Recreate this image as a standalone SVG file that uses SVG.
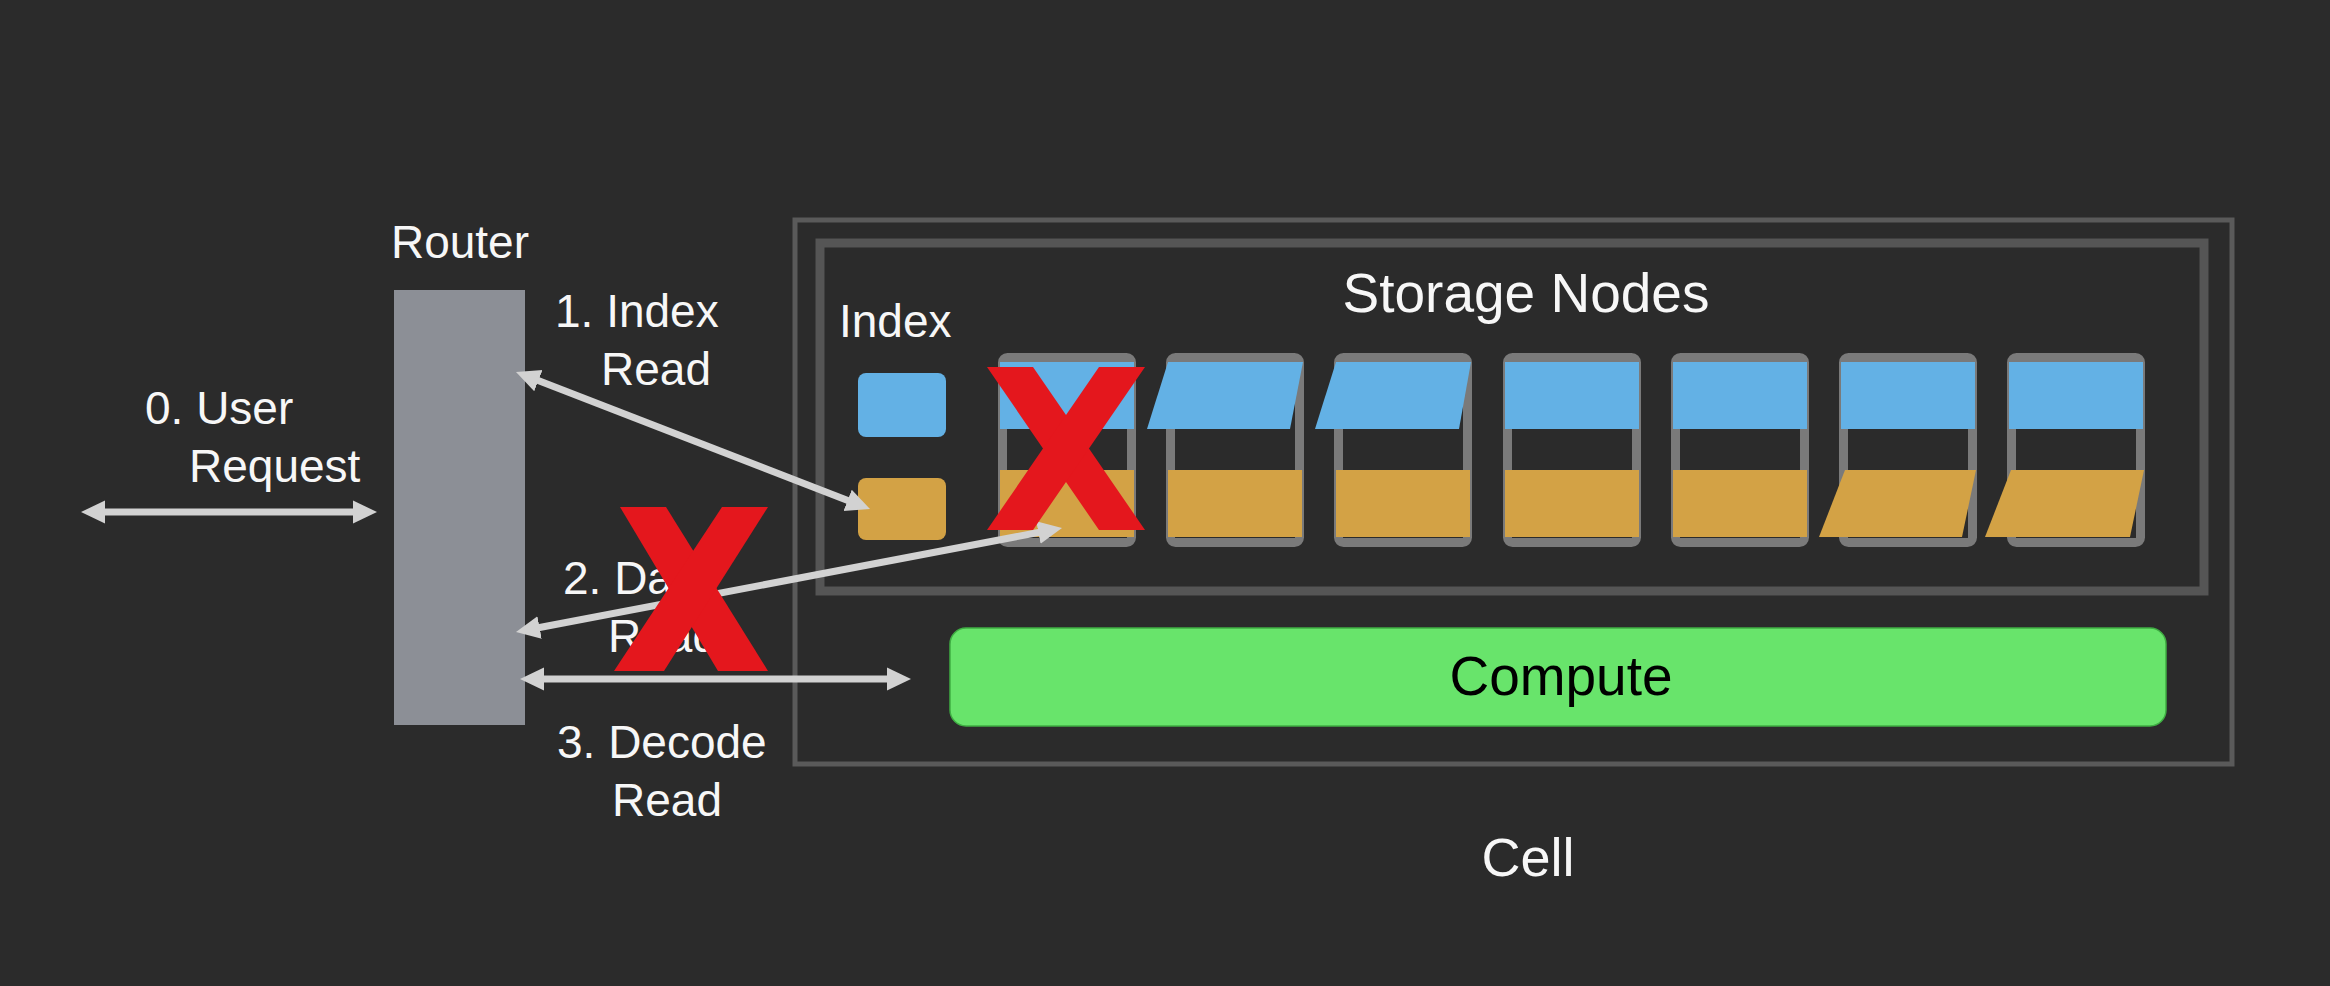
<svg xmlns="http://www.w3.org/2000/svg" width="2330" height="986" viewBox="0 0 2330 986">
<defs>
<style>
.lbl{font-family:"Liberation Sans",Arial,sans-serif;fill:#f7f7f7;font-size:46px}
.big{font-family:"Liberation Sans",Arial,sans-serif;font-size:55px}
.frame{fill:none;stroke:#7a7a7a;stroke-width:9}
.blue{fill:#63b1e5}
.orange{fill:#d3a245}
.conn{stroke:#d2d2d2;stroke-width:7;fill:none}
.xmark{fill:#e4171d}
</style>
<marker id="ah" viewBox="0 0 24 24" refX="12" refY="12" markerWidth="24" markerHeight="24" markerUnits="userSpaceOnUse" orient="auto-start-reverse">
<path d="M0,0.5 L24,12 L0,23.5 Z" fill="#d2d2d2"/>
</marker>
</defs>
<rect width="2330" height="986" fill="#2b2b2b"/>

<g id="cell">
<rect x="795" y="220" width="1437" height="544" fill="none" stroke="#5a5a5a" stroke-width="5"/>
<text class="lbl" x="1528" y="876" font-size="54" text-anchor="middle" style="font-size:54px">Cell</text>
</g>

<g id="storage-nodes">
<rect x="820" y="243" width="1384" height="348" fill="none" stroke="#555555" stroke-width="9"/>
<text class="lbl" x="1526" y="312" text-anchor="middle" style="font-size:55px">Storage Nodes</text>
</g>

<g id="router">
<text class="lbl" x="460" y="258" text-anchor="middle">Router</text>
<rect x="394" y="290" width="131" height="435" fill="#8c8f96"/>
</g>

<g id="index">
<text class="lbl" x="839" y="337">Index</text>
<rect x="858" y="373" width="88" height="64" rx="8" class="blue"/>
<rect x="858" y="478" width="88" height="62" rx="8" class="orange"/>
</g>

<g id="node-1">
<rect x="1002.5" y="357.5" width="129" height="185" rx="5" class="frame"/>
<rect x="1000" y="362" width="134" height="67" class="blue"/>
<rect x="1000" y="470" width="134" height="67" class="orange"/>
</g>
<g id="node-2">
<rect x="1170.5" y="357.5" width="129" height="185" rx="5" class="frame"/>
<polygon points="1168,362 1303,362 1290,429 1147,429" class="blue"/>
<rect x="1168" y="470" width="134" height="67" class="orange"/>
</g>
<g id="node-3">
<rect x="1338.5" y="357.5" width="129" height="185" rx="5" class="frame"/>
<polygon points="1336,362 1471,362 1459,429 1315,429" class="blue"/>
<rect x="1336" y="470" width="134" height="67" class="orange"/>
</g>
<g id="node-4">
<rect x="1507.5" y="357.5" width="129" height="185" rx="5" class="frame"/>
<rect x="1505" y="362" width="134" height="67" class="blue"/>
<rect x="1505" y="470" width="134" height="67" class="orange"/>
</g>
<g id="node-5">
<rect x="1675.5" y="357.5" width="129" height="185" rx="5" class="frame"/>
<rect x="1673" y="362" width="134" height="67" class="blue"/>
<rect x="1673" y="470" width="134" height="67" class="orange"/>
</g>
<g id="node-6">
<rect x="1843.5" y="357.5" width="129" height="185" rx="5" class="frame"/>
<rect x="1841" y="362" width="134" height="67" class="blue"/>
<polygon points="1845,470 1976,470 1962,537 1819,537" class="orange"/>
</g>
<g id="node-7">
<rect x="2011.5" y="357.5" width="129" height="185" rx="5" class="frame"/>
<rect x="2009" y="362" width="134" height="67" class="blue"/>
<polygon points="2011,470 2144,470 2130,537 1985,537" class="orange"/>
</g>

<g id="compute">
<rect x="950" y="628" width="1216" height="98" rx="16" fill="#68e46b" stroke="#3fae43" stroke-width="1.5"/>
<text class="big" x="1561" y="695" text-anchor="middle" fill="#000000">Compute</text>
</g>

<g id="labels">
<text class="lbl" x="145" y="424">0. User</text>
<text class="lbl" x="189" y="482">Request</text>
<text class="lbl" x="555" y="327">1. Index</text>
<text class="lbl" x="601" y="385">Read</text>
<text class="lbl" x="563" y="594">2. Data</text>
<text class="lbl" x="608" y="652">Read</text>
<text class="lbl" x="557" y="758">3. Decode</text>
<text class="lbl" x="612" y="816">Read</text>
</g>

<g id="connectors">
<line class="conn" x1="93" y1="512" x2="365" y2="512" marker-start="url(#ah)" marker-end="url(#ah)"/>
<line class="conn" x1="527.2" y1="376.3" x2="858.8" y2="504.7" marker-start="url(#ah)" marker-end="url(#ah)"/>
<line class="conn" x1="527.8" y1="629.8" x2="1050.2" y2="530.2" marker-start="url(#ah)" marker-end="url(#ah)"/>
<line class="conn" x1="532" y1="679" x2="899" y2="679" marker-start="url(#ah)" marker-end="url(#ah)"/>
</g>

<g id="x-marks">
<polygon class="xmark" points="620,507 666,507 768,671 718,671"/>
<polygon class="xmark" points="722,507 768,507 664,671 614,671"/>
<polygon class="xmark" points="987,367 1033,367 1145,530 1099,530"/>
<polygon class="xmark" points="1099,367 1145,367 1033,530 987,530"/>
</g>
</svg>
